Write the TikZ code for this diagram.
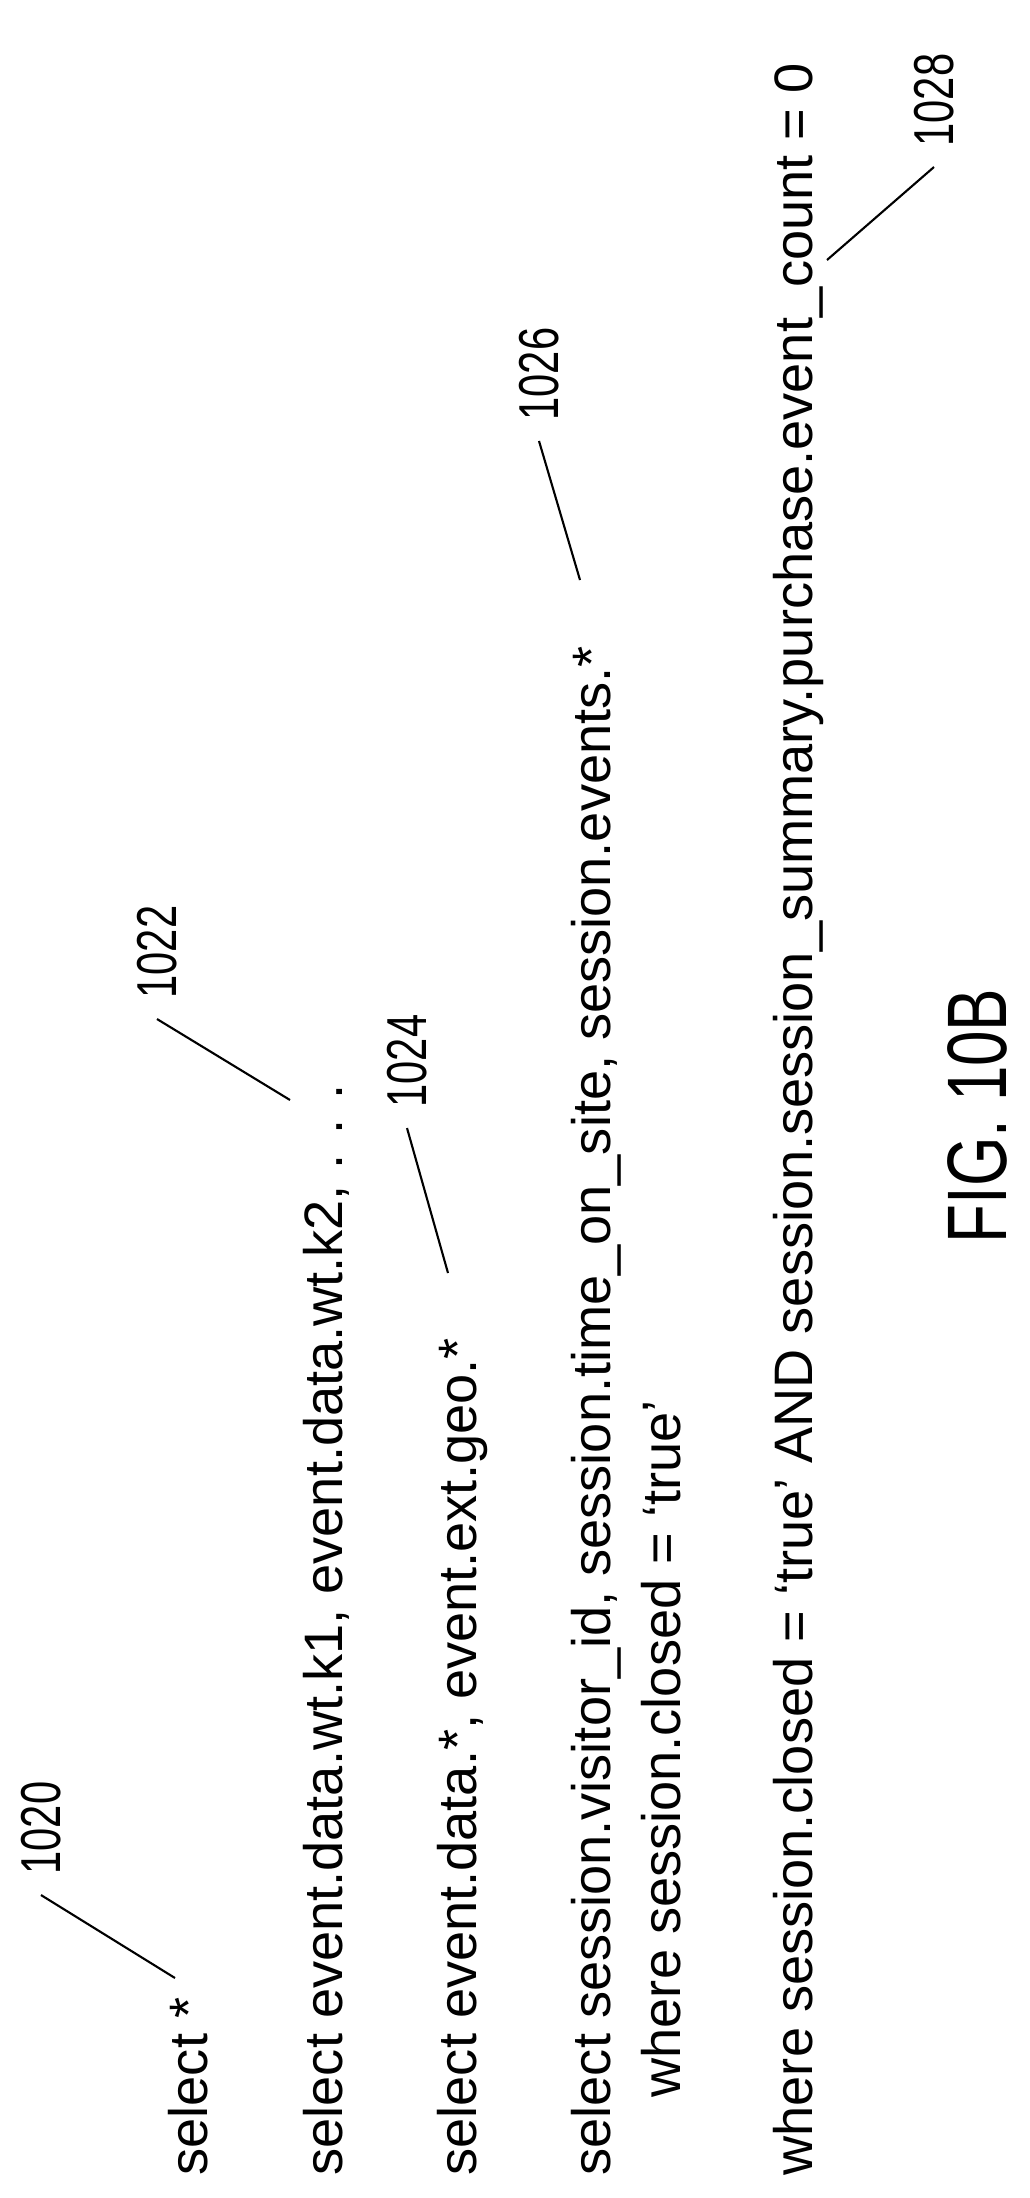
\documentclass[tikz,border=0pt]{standalone}
\usepackage{fontspec}
\setmainfont{Liberation Sans}
\usepackage{tikz}

\begin{document}
\begin{tikzpicture}[x=0.01cm, y=-0.01cm,
    query/.style={rotate=90, anchor=base west, inner sep=0pt, font=\fontsize{15.4}{18}\selectfont},
    refnum/.style={rotate=90, inner sep=2mm, font=\fontsize{16}{18}\selectfont},
    leader/.style={line width=0.6pt}]
    \useasboundingbox (0,0) rectangle (1029,2198);
    \node[query] (q1) at (207,2176) {select *};
    \node[query] (q2) at (342,2176) {select event.data.wt.k1, event.data.wt.k2, . . .};
    \node[query] (q3) at (476,2176) {select event.data.*, event.ext.geo.*};
    \node[query] (q4) at (610,2176) {select session.visitor\_id, session.time\_on\_site, session.events.*};
    \node[query] (q5) at (680,2098) {where session.closed = `true'};
    \node[query] (q6) at (812,2176) {where session.closed = `true' AND session.session\_summary.purchase.event\_count = 0};
    \node[rotate=90, inner sep=0pt, font=\fontsize{24}{28}\selectfont] (fig) at (977,1116) {\scalebox{0.755}[1]{FIG. 10B}};

    \node[refnum] (n1020) at (41,1828) {\scalebox{0.74}[1]{1020}};
    \node[refnum] (n1022) at (157,952) {\scalebox{0.74}[1]{1022}};
    \node[refnum] (n1024) at (407,1061) {\scalebox{0.74}[1]{1024}};
    \node[refnum] (n1026) at (539,374) {\scalebox{0.74}[1]{1026}};
    \node[refnum] (n1028) at (934,100) {\scalebox{0.74}[1]{1028}};

    \coordinate (t1020) at (175,1978);
    \coordinate (t1022) at (290,1100);
    \coordinate (t1024) at (448,1273);
    \coordinate (t1026) at (580,580);
    \coordinate (t1028) at (827,260);

    \foreach \n in {1020,1022,1024,1026,1028}
        \draw[leader] (n\n.west) -- (t\n);
\end{tikzpicture}
\end{document}
